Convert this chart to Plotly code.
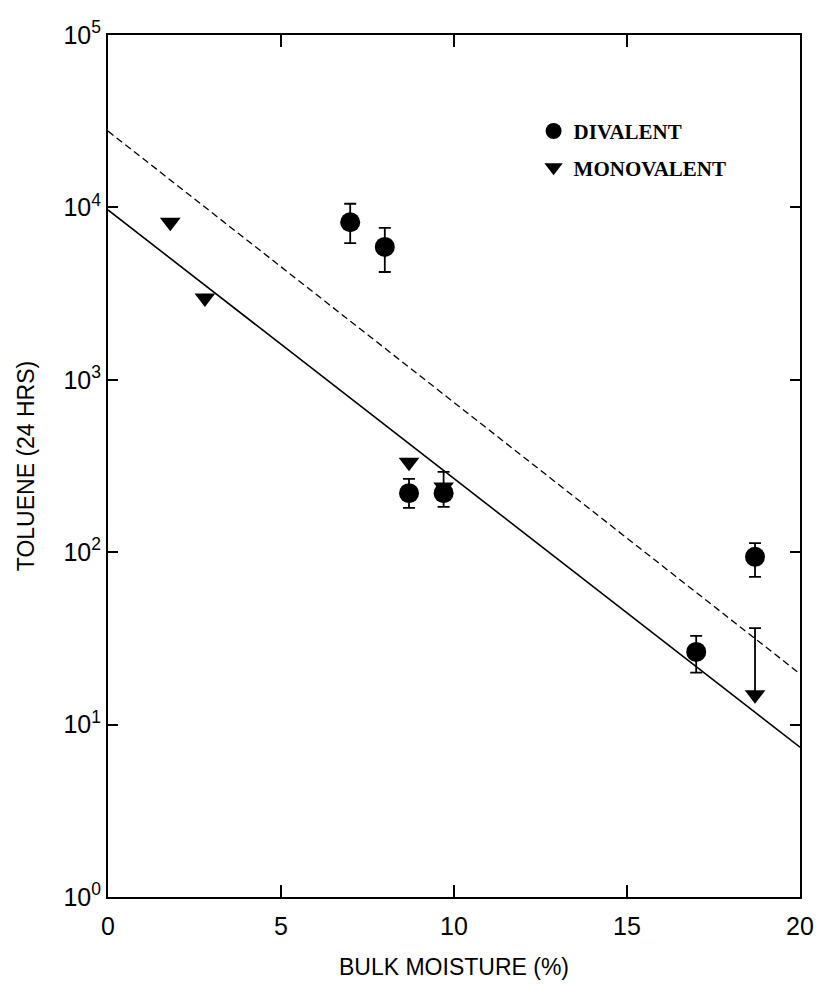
import plotly.graph_objects as go

# Divalent data
div_x = [7.0, 8.0, 8.7, 9.7, 17.0, 18.7]
div_y = [8200, 5900, 220, 220, 26.4, 94]
div_hi = [10500, 7600, 266, 292, 32.7, 113]
div_lo = [6200, 4220, 181, 183, 20.0, 72]

# Monovalent data
mono_x = [1.8, 2.8, 8.7, 9.7, 18.7]
mono_y = [8200, 2980, 333, 239, 14.9]
mono_hi = [8200, 2980, 333, 239, 36.3]

# Fit lines
fit_x = [0, 20]
solid_y = [9660, 7.4]
dashed_y = [27700, 19.7]

ytick_vals = [1, 10, 100, 1000, 10000, 100000]
ytick_text = ["10<sup>0</sup>", "10<sup>1</sup>", "10<sup>2</sup>", "10<sup>3</sup>",
              "10<sup>4</sup>", "10<sup>5</sup>"]
xtick_vals = [0, 5, 10, 15, 20]

fig = go.Figure()

fig.add_trace(go.Scatter(x=fit_x, y=dashed_y, mode="lines",
                         line=dict(color="black", width=1.3, dash="7px,4px"),
                         showlegend=False, hoverinfo="skip"))
fig.add_trace(go.Scatter(x=fit_x, y=solid_y, mode="lines",
                         line=dict(color="black", width=1.6),
                         showlegend=False, hoverinfo="skip"))

fig.add_trace(go.Scatter(
    x=div_x, y=div_y, mode="markers", name="DIVALENT", legendgroup="d",
    marker=dict(symbol="circle", size=20, color="black"),
    error_y=dict(type="data", symmetric=False,
                 array=[h - v for h, v in zip(div_hi, div_y)],
                 arrayminus=[v - l for v, l in zip(div_y, div_lo)],
                 color="black", thickness=1.8, width=6),
))
fig.add_trace(go.Scatter(
    x=mono_x, y=mono_y, mode="markers", name="MONOVALENT", legendgroup="m",
    marker=dict(symbol="triangle-down", size=18, color="black"),
    error_y=dict(type="data", symmetric=False,
                 array=[h - v for h, v in zip(mono_hi, mono_y)],
                 arrayminus=[0] * len(mono_y),
                 color="black", thickness=1.8, width=6),
))

tick_font = dict(family="Liberation Sans, Arial, sans-serif", size=25, color="black")
title_font = dict(family="Liberation Sans, Arial, sans-serif", size=23, color="black")

fig.update_layout(
    width=826, height=992,
    margin=dict(l=108, r=14, t=35, b=95),
    paper_bgcolor="white", plot_bgcolor="white",
    showlegend=True,
    legend=dict(x=0.615, y=0.912, xanchor="left", yanchor="top",
                bgcolor="rgba(0,0,0,0)", tracegroupgap=6,
                font=dict(family="Liberation Serif, Times New Roman, serif", size=21,
                          color="black", weight="bold"),
                itemwidth=30),
    xaxis=dict(range=[0, 20], tickvals=xtick_vals, ticks="inside", ticklen=12,
               tickwidth=1.5, tickcolor="black", showline=True, linecolor="black",
               linewidth=2, mirror="ticks", showgrid=False, zeroline=False,
               tickfont=tick_font, ticklabelstandoff=6,
               title=dict(text="BULK MOISTURE (%)", font=title_font, standoff=20)),
    yaxis=dict(type="log", range=[0, 5], tickvals=ytick_vals, ticktext=ytick_text,
               ticks="inside", ticklen=10, tickwidth=1.5, tickcolor="black",
               showline=True, linecolor="black", linewidth=2, mirror="ticks",
               showgrid=False, zeroline=False, tickfont=tick_font,
               title=dict(text="TOLUENE (24 HRS)", font=title_font, standoff=22)),
)

fig.write_html("out.html")
